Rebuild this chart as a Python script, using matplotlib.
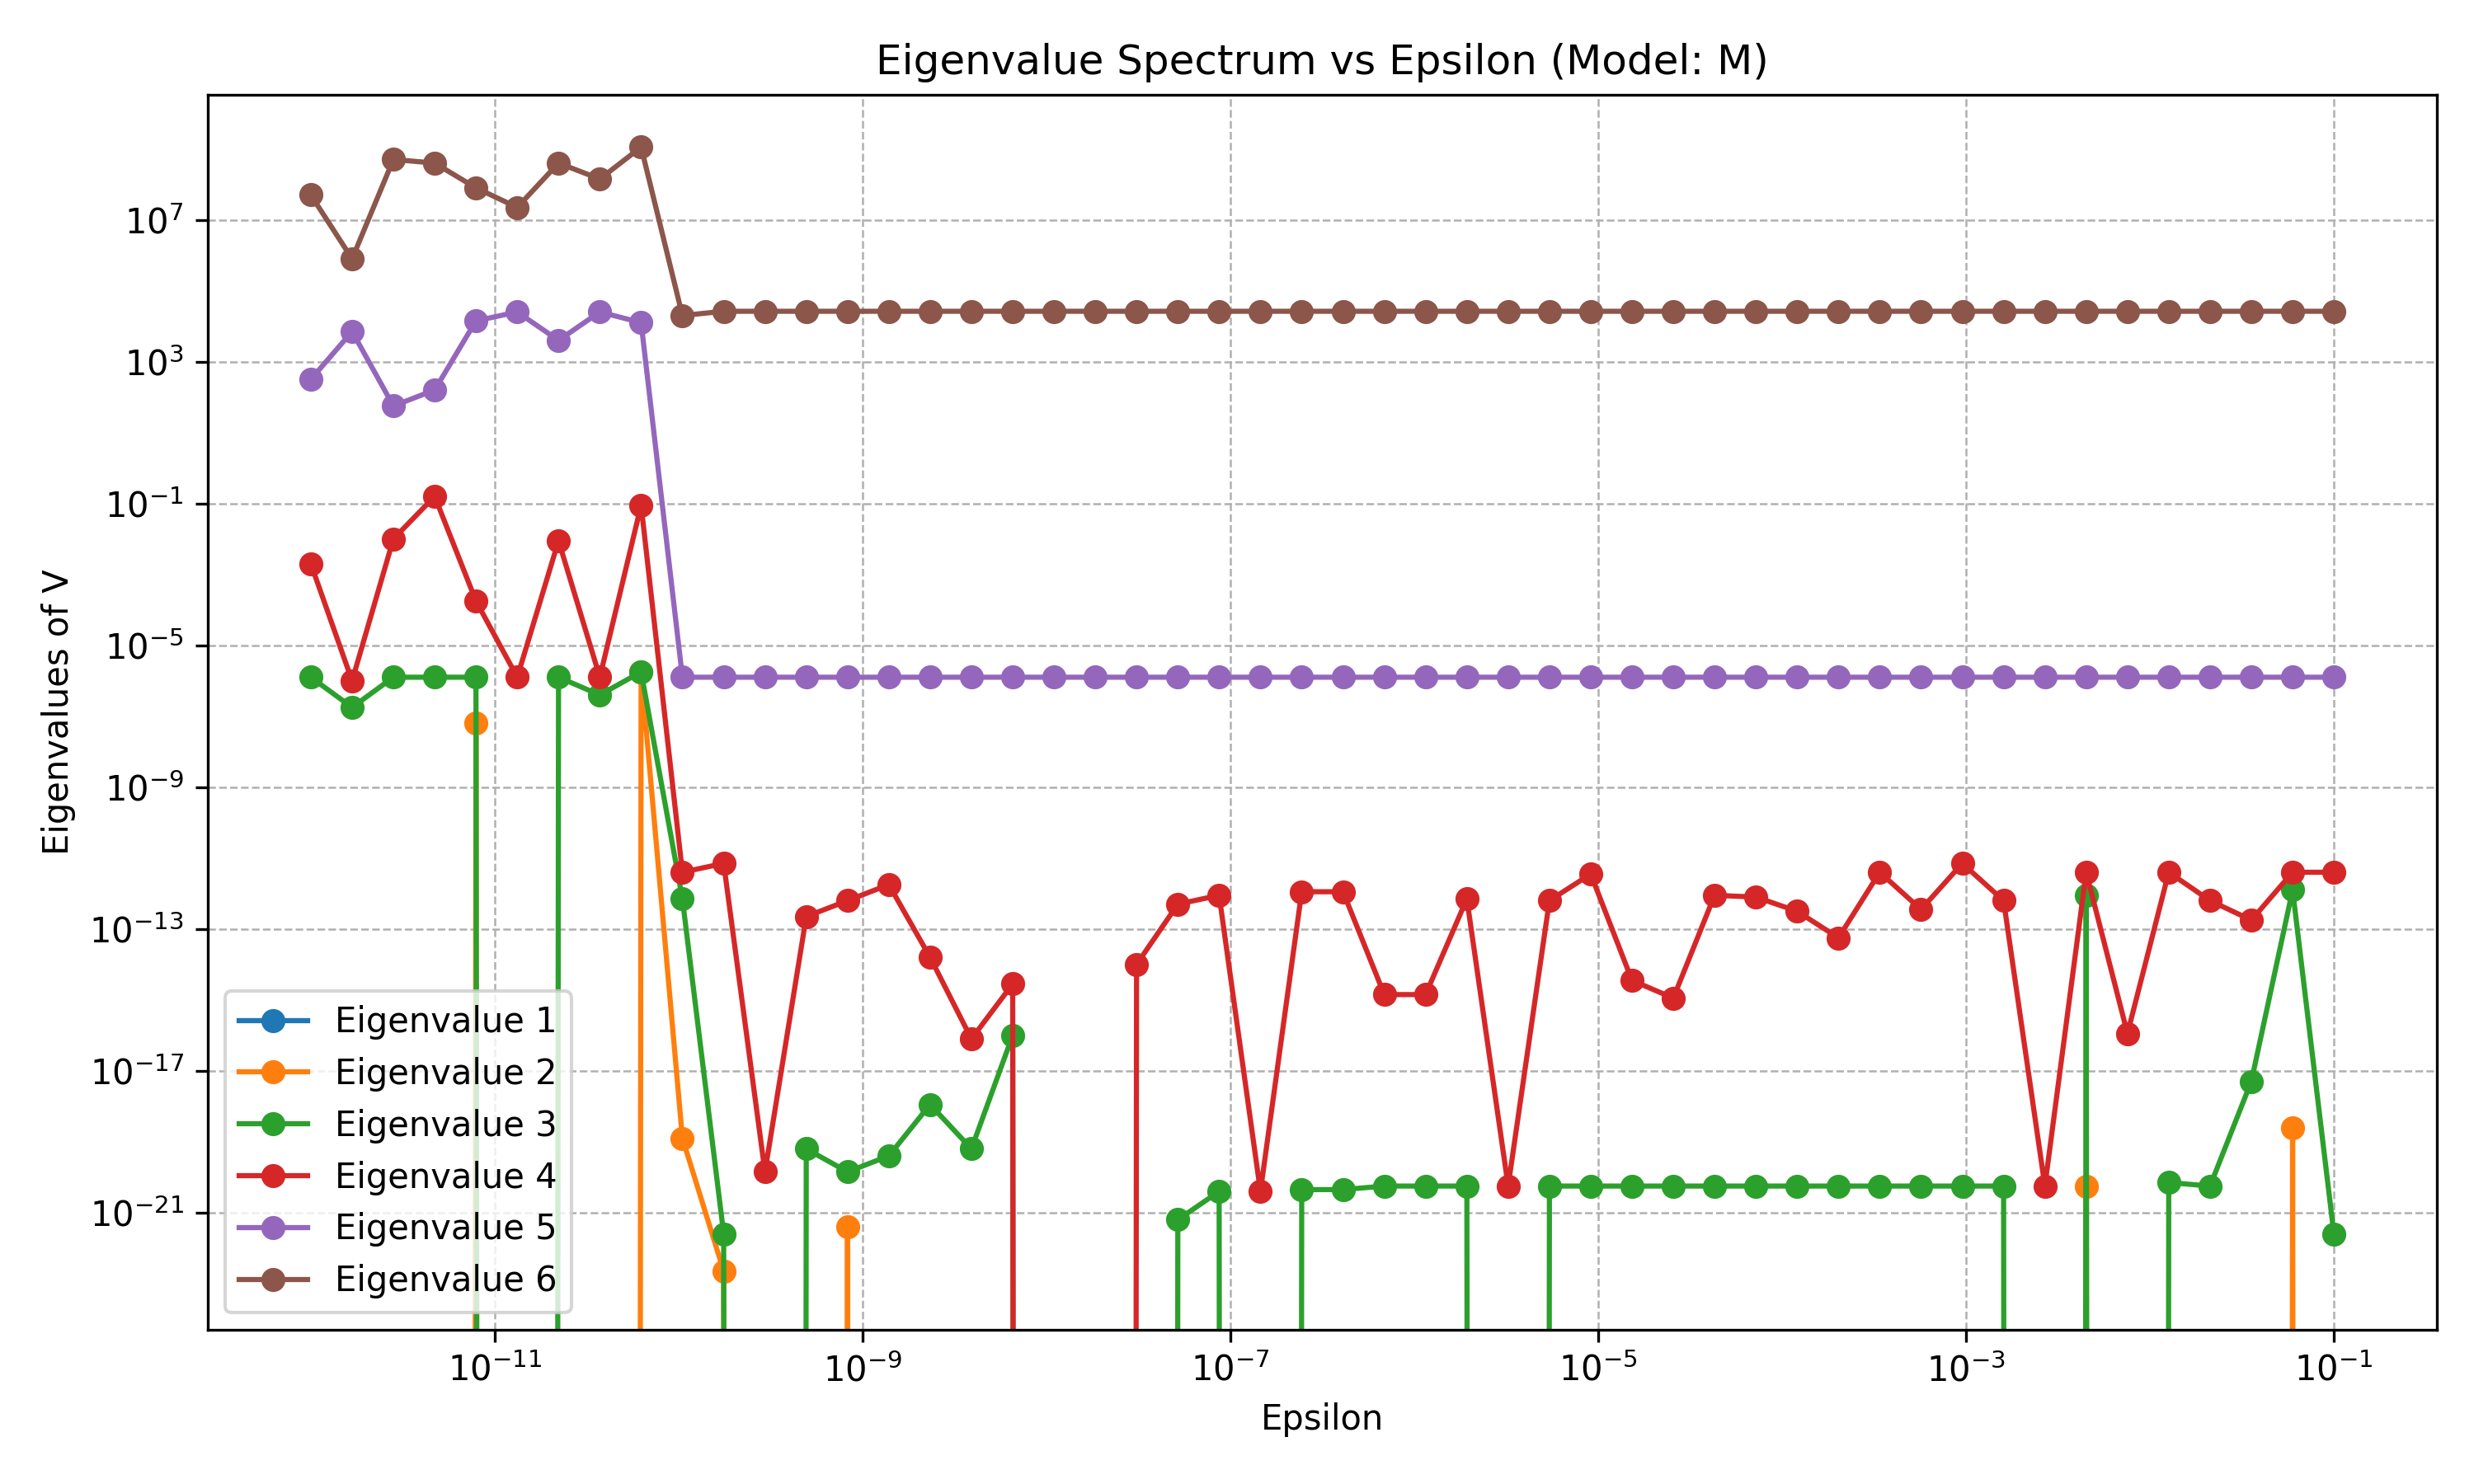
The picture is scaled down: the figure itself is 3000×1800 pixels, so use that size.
import matplotlib
matplotlib.use("Agg")
import matplotlib.pyplot as plt
import numpy as np

# 50 epsilon values, log-spaced from 1e-12 to 1e-1
epsilon = np.logspace(-12, -1, 50)

Z = None  # non-positive eigenvalue (clipped on log axis)

# log10 of eigenvalues; None = non-positive
ev1 = [None] * 50
ev2 = [None] * 50
for i, v in {4: -7.2, 8: -5.75, 9: -18.9, 10: -22.65, 13: -21.4, 43: -20.25, 48: -18.6}.items():
    ev2[i] = v
ev3 = [-5.9, -6.75, -5.9, -5.9, -5.9, Z, -5.9, -6.4, -5.75, -12.15,
       -21.6, Z, -19.2, -19.85, -19.4, -17.95, -19.2, -16.0, Z, Z,
       Z, -21.2, -20.4, Z, -20.35, -20.35, -20.25, -20.25, -20.25, Z,
       -20.25, -20.25, -20.25, -20.25, -20.25, -20.25, -20.25, -20.25, -20.25, -20.25,
       -20.25, -20.25, Z, -12.05, Z, -20.15, -20.25, -17.3, -11.9, -21.6]
ev4 = [-2.7, -6.0, -2.0, -0.8, -3.75, -5.9, -2.05, -5.9, -1.05, -11.4,
       -11.15, -19.85, -12.65, -12.2, -11.75, -13.8, -16.1, -14.55, Z, Z,
       -14.0, -12.3, -12.05, -20.4, -11.95, -11.95, -14.85, -14.85, -12.15, -20.25,
       -12.2, -11.45, -14.45, -14.95, -12.05, -12.1, -12.5, -13.25, -11.4, -12.45,
       -11.15, -12.2, -20.25, -11.4, -15.95, -11.4, -12.2, -12.75, -11.4, -11.4]
ev5 = [2.5, 3.85, 1.75, 2.2, 4.15, 4.4, 3.6, 4.4, 4.1] + [-5.9] * 41
ev6 = [7.7, 5.9, 8.7, 8.6, 7.9, 7.35, 8.6, 8.15, 9.05, 4.3] + [4.42] * 40

series = [ev1, ev2, ev3, ev4, ev5, ev6]


def to_vals(logs):
    return np.array([0.0 if v is None else 10.0 ** v for v in logs])


fig, ax = plt.subplots(figsize=(10, 6), dpi=300)
for k, s in enumerate(series):
    ax.plot(epsilon, to_vals(s), marker="o", label=f"Eigenvalue {k + 1}")

ax.set_xscale("log")
ax.set_yscale("log")
ax.set_ylim(10 ** -24.3, 10 ** 10.52)
ax.set_xlim(10 ** -12.56, 10 ** -0.44)
ax.set_yticks([10.0 ** e for e in range(-21, 8, 4)])
ax.grid(True, which="major", linestyle="--", linewidth=0.6, color="#b0b0b0")
ax.set_xlabel("Epsilon")
ax.set_ylabel("Eigenvalues of V")
ax.set_title("Eigenvalue Spectrum vs Epsilon (Model: M)")
ax.legend(loc="lower left")
fig.subplots_adjust(left=0.084, right=0.985, top=0.936, bottom=0.104)
fig.savefig("out.png")
